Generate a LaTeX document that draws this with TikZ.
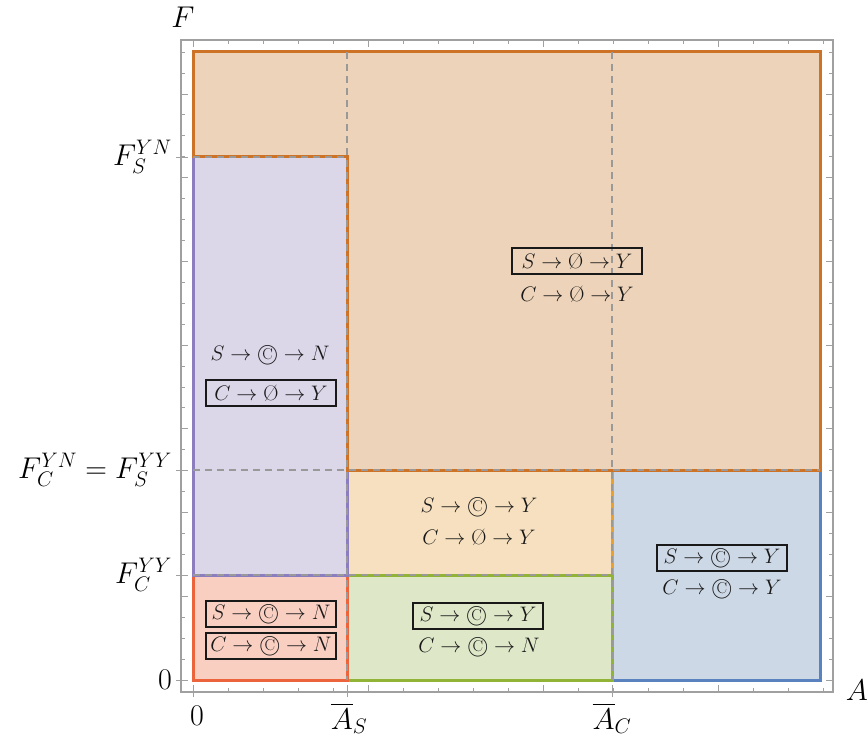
\RequirePackage{fix-cm}
\documentclass[tikz,border=0pt]{standalone}
\usepackage{amsmath,amssymb}
\definecolor{orfill}{HTML}{EDD3B9}
\definecolor{orline}{HTML}{CC7328}
\definecolor{pufill}{HTML}{DBD6E8}
\definecolor{puline}{HTML}{8C7DBE}
\definecolor{lofill}{HTML}{F6E0BF}
\definecolor{loline}{HTML}{E8A032}
\definecolor{refill}{HTML}{F9CFC2}
\definecolor{reline}{HTML}{EC643C}
\definecolor{grfill}{HTML}{DEE7C7}
\definecolor{grline}{HTML}{91B437}
\definecolor{blfill}{HTML}{CDD8E6}
\definecolor{blline}{HTML}{5A82BE}
\definecolor{framegray}{HTML}{A0A0A0}
\newcommand{\cirC}{\text{\textcircled{\scalebox{0.75}{C}}}}
\newcommand{\emp}{\mathord{\text{\O}}}
\begin{document}
\begin{tikzpicture}[x=1pt,y=-1pt,
  regionline/.style={line width=3pt,line join=miter},
  gridline/.style={draw=gray!80,line width=1.1pt,dash pattern=on 7pt off 5pt},
  txt/.style={font=\fontsize{21}{25}\selectfont,text=black!90,inner sep=2pt},
  boxed/.style={txt,draw=black!90,line width=1.2pt,minimum width=130pt,minimum height=26pt},
  axlab/.style={font=\fontsize{30}{35}\selectfont,inner sep=0pt},
  frameline/.style={draw=framegray,line width=1.2pt},
  tick/.style={draw=framegray,line width=0.9pt}]
\useasboundingbox (0,0) rectangle (868,738);
% fills
\fill[orfill] (193,52) -- (820,52) -- (820,470) -- (347,470) -- (347,157) -- (193,157) -- cycle;
\fill[pufill] (193,157) rectangle (347,575);
\fill[lofill] (347,470) rectangle (612,575);
\fill[refill] (193,575) rectangle (347,680);
\fill[grfill] (347,575) rectangle (612,680);
\fill[blfill] (612,470) rectangle (820,680);
% strokes
\draw[regionline,draw=blline] (612,470) rectangle (820,680);
\draw[regionline,draw=loline] (347,470) rectangle (612,575);
\draw[regionline,draw=grline] (347,575) rectangle (612,680);
\draw[regionline,draw=reline] (193,575) rectangle (347,680);
\draw[regionline,draw=puline] (193,157) rectangle (347,575);
\draw[regionline,draw=orline] (193,52) -- (820,52) -- (820,470) -- (347,470) -- (347,157) -- (193,157) -- cycle;
% grid lines
\draw[gridline] (347,52) -- (347,680);
\draw[gridline] (612,52) -- (612,680);
\draw[gridline] (193,470) -- (820,470);
\draw[gridline] (193,157) -- (347,157);
\draw[gridline] (193,575) -- (612,575);
% frame
\draw[frameline] (181,40) rectangle (833,692);
\foreach \i in {0,...,18}{
  \pgfmathsetmacro{\xx}{193+35*\i}
  \pgfmathtruncatemacro{\m}{mod(\i,5)}
  \ifnum\m=0
    \draw[tick] (\xx,692) -- ++(0,-7); \draw[tick] (\xx,40) -- ++(0,7);
  \else
    \draw[tick] (\xx,692) -- ++(0,-4); \draw[tick] (\xx,40) -- ++(0,4);
  \fi}
\foreach \i in {0,...,30}{
  \pgfmathsetmacro{\yy}{680-20.93*\i}
  \pgfmathtruncatemacro{\m}{mod(\i,4)}
  \ifnum\m=0
    \draw[tick] (181,\yy) -- ++(7,0); \draw[tick] (833,\yy) -- ++(-7,0);
  \else
    \draw[tick] (181,\yy) -- ++(4,0); \draw[tick] (833,\yy) -- ++(-4,0);
  \fi}
\foreach \yy in {157,470,575,680}{\draw[tick] (176,\yy) -- (188,\yy);}
\foreach \xx in {193,347,612}{\draw[tick] (\xx,697) -- (\xx,685);}
% axis labels
\node[axlab] (Flab) at (183,17) {$F$};
\node[axlab] (Alab) at (857,690) {$A$};
\node[axlab,anchor=east] (y1) at (172,157) {$F_S^{YN}$};
\node[axlab,anchor=east] (y2) at (172,470) {$F_C^{YN}=F_S^{YY}$};
\node[axlab,anchor=east] (y3) at (172,575) {$F_C^{YY}$};
\node[axlab,anchor=east] (y4) at (172,680) {$0$};
\node[axlab] (x1) at (197,716) {$0$};
\node[axlab] (x2) at (349,718) {$\overline{A}_S$};
\node[axlab] (x3) at (612,718) {$\overline{A}_C$};
% region texts
\node[boxed] (o1) at (577,261) {$S\to\emp\to Y$};
\node[txt] (o2) at (577,294) {$C\to\emp\to Y$};
\node[txt] (p1) at (270,355) {$S\to\cirC\to N$};
\node[boxed] (p2) at (271,393) {$C\to\emp\to Y$};
\node[txt] (l1) at (479,507) {$S\to\cirC\to Y$};
\node[txt] (l2) at (479,537) {$C\to\emp\to Y$};
\node[boxed] (r1) at (271,614) {$S\to\cirC\to N$};
\node[boxed] (r2) at (271,646) {$C\to\cirC\to N$};
\node[boxed] (g1) at (478,616) {$S\to\cirC\to Y$};
\node[txt] (g2) at (479,647) {$C\to\cirC\to N$};
\node[boxed] (b1) at (722,558) {$S\to\cirC\to Y$};
\node[txt] (b2) at (722,589) {$C\to\cirC\to Y$};
\end{tikzpicture}
\end{document}
